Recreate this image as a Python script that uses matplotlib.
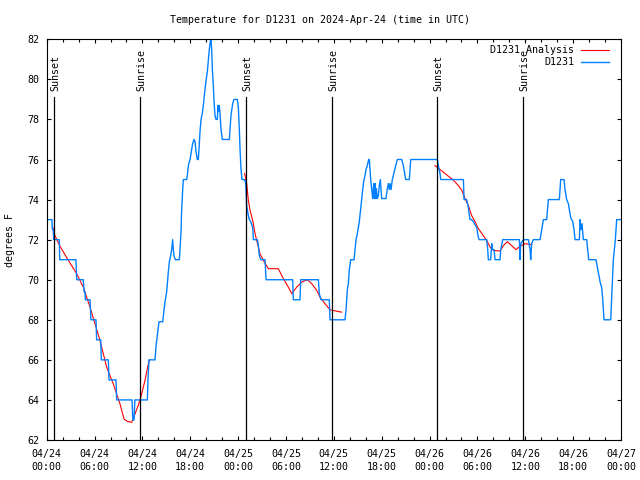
import numpy as np
import matplotlib
matplotlib.use("Agg")
import matplotlib.pyplot as plt
from matplotlib.ticker import MultipleLocator, FixedLocator
import matplotlib.transforms as mtransforms

# ---- data (hours since 2024-04-24 00:00 UTC) ----
obs_hours = [0.0, 0.66, 0.71, 0.83, 0.87, 1.58, 1.63, 3.67, 3.76, 4.59, 4.68, 4.80, 4.84, 5.43, 5.55,
             6.18, 6.26, 6.77, 6.85, 7.73, 7.81, 8.69, 8.77, 10.70, 10.80, 10.95, 11.05, 12.62, 12.70,
             12.82, 13.58, 13.71, 13.87, 14.08, 14.54, 14.71, 14.83, 15.04, 15.25, 15.38, 15.54, 15.67,
             15.79, 15.88, 15.96, 16.13, 16.63, 16.71, 16.84, 16.92, 17.05, 17.13, 17.55, 17.63, 17.76,
             17.97, 18.17, 18.30, 18.47, 18.59, 18.72, 18.89, 19.01, 19.09, 19.22, 19.35, 19.51, 19.64,
             19.76, 19.97, 20.14, 20.27, 20.39, 20.52, 20.60, 20.68, 20.77, 20.89, 20.98, 21.10, 21.23,
             21.39, 21.48, 21.56, 21.64, 21.73, 21.85, 22.02, 22.90, 22.98, 23.10, 23.32, 23.48, 23.90,
             24.03, 24.15, 24.24, 24.36, 24.49, 24.78, 24.91, 24.99, 25.07, 25.28, 25.41, 25.58, 25.83,
             25.91, 26.41, 26.54, 26.66, 26.83, 27.37, 27.50, 30.84, 30.92, 31.76, 31.84, 34.06, 34.18,
             34.39, 35.43, 35.52, 37.40, 37.53, 37.69, 37.82, 37.94, 38.11, 38.53, 38.65, 38.78, 38.95,
             39.07, 39.19, 39.36, 39.49, 39.62, 39.74, 39.91, 40.03, 40.20, 40.37, 40.45, 40.53, 40.62,
             40.75, 40.87, 41.00, 41.08, 41.16, 41.25, 41.33, 41.45, 41.58, 41.70, 41.83, 41.91, 42.00,
             42.54, 42.71, 42.83, 42.96, 43.04, 43.17, 43.33, 43.46, 43.63, 43.76, 43.96, 44.51, 44.71,
             44.88, 45.01, 45.46, 45.55, 45.64, 48.98, 49.10, 49.31, 49.40, 52.24, 52.32, 52.65, 52.86,
             53.07, 53.28, 53.49, 53.91, 54.12, 54.24, 55.16, 55.29, 55.37, 55.66, 55.79, 55.91, 56.08,
             56.21, 56.83, 56.92, 57.17, 59.26, 59.34, 59.43, 59.76, 60.39, 60.60, 60.68, 60.80, 61.01,
             61.85, 62.06, 62.27, 62.68, 62.89, 64.27, 64.36, 64.44, 64.86, 64.98, 65.19, 65.40, 65.53,
             65.69, 65.95, 66.11, 66.24, 66.78, 66.86, 66.99, 67.11, 67.28, 67.70, 67.83, 67.95, 68.87,
             69.04, 69.29, 69.37, 69.58, 69.70, 69.87, 70.71, 70.83, 70.96, 71.04, 71.17, 71.29, 71.46,
             72.0]
obs_temps = [73.0, 73.0, 72.5, 72.5, 72.0, 72.0, 71.0, 71.0, 70.0, 70.0, 69.4, 69.4, 69.0, 69.0, 68.0,
             68.0, 67.0, 67.0, 66.0, 66.0, 65.0, 65.0, 64.0, 64.0, 63.0, 63.0, 64.0, 64.0, 65.0,
             66.0, 66.0, 66.7, 67.2, 67.9, 67.9, 68.5, 68.9, 69.4, 70.4, 70.9, 71.2, 71.5,
             72.0, 71.5, 71.2, 71.0, 71.0, 71.5, 72.4, 73.5, 74.5, 75.0, 75.0, 75.2, 75.7,
             76.0, 76.5, 76.8, 77.0, 76.9, 76.4, 76.0, 76.0, 76.5, 77.4, 78.0, 78.3, 78.7,
             79.2, 79.9, 80.4, 81.0, 81.5, 81.9, 82.0, 81.5, 80.5, 79.7, 78.9, 78.2, 78.0,
             78.0, 78.7, 78.4, 78.7, 78.3, 77.5, 77.0, 77.0, 77.5, 78.2, 78.8, 79.0, 79.0,
             78.6, 77.5, 76.5, 75.5, 75.0, 75.0, 74.9, 74.5, 73.7, 73.2, 73.0, 72.9, 72.6,
             72.0, 72.0, 71.7, 71.2, 71.0, 71.0, 70.0, 70.0, 69.0, 69.0, 70.0, 70.0, 69.3,
             69.0, 69.0, 68.0, 68.0, 68.5, 69.5, 69.8, 70.5, 71.0, 71.0, 71.5, 72.0, 72.3,
             72.6, 72.9, 73.5, 74.0, 74.5, 74.9, 75.2, 75.5, 75.7, 76.0, 76.0, 75.5, 75.0,
             74.5, 74.05, 74.8, 74.05, 74.8, 74.05, 74.55, 74.05, 74.2, 74.7, 75.0, 74.5, 74.05,
             74.05, 74.55, 74.8, 74.5, 74.8, 74.5, 75.0, 75.2, 75.5, 75.7, 76.0, 76.0, 75.7,
             75.3, 75.0, 75.0, 75.5, 76.0, 76.0, 75.7, 75.3, 75.0, 75.0, 74.0, 74.0, 73.6,
             73.0, 73.0, 72.9, 72.6, 72.1, 72.0, 72.0, 71.5, 71.0, 71.0, 71.8, 71.5, 71.5,
             71.0, 71.0, 71.5, 72.0, 72.0, 71.0, 71.8, 72.0, 72.0, 71.5, 71.0, 71.8, 72.0,
             72.0, 72.5, 73.0, 73.0, 74.0, 74.0, 74.5, 75.0, 75.0, 74.5, 74.0, 73.8, 73.5,
             73.1, 72.9, 72.5, 72.0, 72.0, 73.0, 72.5, 72.8, 72.0, 72.0, 71.5, 71.0, 71.0,
             70.6, 70.1, 69.9, 69.6, 69.1, 68.0, 68.0, 69.1, 70.3, 71.0, 71.5, 72.0, 73.0,
             73.0]

ana_hours = [0.75, 1.04, 1.67, 2.71, 3.76, 4.59, 5.43, 6.06, 6.68, 7.52, 8.35, 9.19, 9.69, 10.11,
             10.65, 11.07, 11.69, 12.32, 12.74, 12.9, np.nan,
             24.82, 25.07, 25.28, 25.49, 25.82, 26.12, 26.53, 26.74, 27.16, 27.79, 29.04, 29.67, 30.30,
             30.72, 31.34, 31.97, 32.69, 33.23, 33.85, 34.27, 34.89, 35.52, 36.35, 36.98, np.nan,
             48.68, 49.94, 50.98, 51.61, 52.03, 52.45, 52.86, 53.28, 53.70, 54.12, 54.74, 55.16, 55.58,
             56.00, 56.83, 57.25, 57.75, 58.30, 58.84, 59.34, 59.97, 60.80]
ana_temps = [72.63, 72.2, 71.67, 70.97, 70.3, 69.63, 68.63, 67.8, 66.97, 65.63, 64.8, 63.8, 63.05, 62.93,
             62.88, 63.3, 63.97, 64.97, 65.8, 66.0, np.nan,
             75.3, 74.8, 73.97, 73.47, 72.97, 72.3, 71.63, 71.3, 70.97, 70.55, 70.55, 70.05, 69.63,
             69.3, 69.63, 69.88, 70.0, 69.8, 69.47, 69.13, 68.8, 68.5, 68.43, 68.38, np.nan,
             75.7, 75.3, 74.97, 74.7, 74.47, 74.05, 73.7, 73.2, 72.9, 72.55, 72.2, 71.97, 71.63,
             71.47, 71.43, 71.7, 71.9, 71.7, 71.5, 71.67, 71.8, 71.75]

event_hours = [0.93, 11.73, 24.99, 35.80, 48.97, 59.76]
event_labels = ["Sunset", "Sunrise", "Sunset", "Sunrise", "Sunset", "Sunrise"]

xtick_hours = [0, 6, 12, 18, 24, 30, 36, 42, 48, 54, 60, 66, 72]
xtick_labels = ["04/24\n00:00", "04/24\n06:00", "04/24\n12:00", "04/24\n18:00",
                "04/25\n00:00", "04/25\n06:00", "04/25\n12:00", "04/25\n18:00",
                "04/26\n00:00", "04/26\n06:00", "04/26\n12:00", "04/26\n18:00",
                "04/27\n00:00"]
yticks = [62, 64, 66, 68, 70, 72, 74, 76, 78, 80, 82]

# ---- figure ----
FONT = "DejaVu Sans Mono"
FS = 7.2
plt.rcParams['font.family'] = [FONT]
plt.rcParams['font.size'] = FS

fig = plt.figure(figsize=(6.4, 4.8), dpi=100)
ax = fig.add_axes([46.7 / 640, 40 / 480, (621 - 46.7) / 640, (440 - 39.3) / 480])

ax.plot(ana_hours, ana_temps, color="#ff0000", lw=0.8, label="D1231 Analysis")
ax.plot(obs_hours, obs_temps, color="#0080ff", lw=1.0, label="D1231")

for h, lab in zip(event_hours, event_labels):
    ax.axvline(h, ymin=0, ymax=0.855, color="black", lw=0.9)
    off = mtransforms.offset_copy(ax.get_xaxis_transform(), fig=fig, x=1.2, y=0, units='dots')
    ax.text(h, 0.87, lab, rotation=90, ha="center", va="bottom", transform=off,
            fontsize=FS, family=FONT)

ax.set_xlim(0, 72)
ax.set_ylim(62, 82)
ax.xaxis.set_major_locator(FixedLocator(xtick_hours))
ax.set_xticklabels(xtick_labels, linespacing=1.3)
ax.xaxis.set_minor_locator(MultipleLocator(2))
ax.set_yticks(yticks)
ax.tick_params(which="both", direction="in", top=True, right=True, width=0.8, colors="black")
ax.tick_params(which="major", length=3.2)
ax.tick_params(which="minor", length=1.9)
ax.tick_params(axis="x", which="major", pad=6.6)
ax.tick_params(axis="y", which="major", pad=5.3)
for sp in ax.spines.values():
    sp.set_linewidth(0.8)

fig.text(10 / 640, 0.5, "degrees F", rotation=90, ha="center", va="center", fontsize=FS)
fig.text(320 / 640, 1 - 20 / 480, "Temperature for D1231 on 2024-Apr-24 (time in UTC)",
         ha="center", va="center", fontsize=FS)

leg = ax.legend(loc="upper right", bbox_to_anchor=(0.985, 0.9925), frameon=False,
                markerfirst=False, handlelength=2.8, handletextpad=0.75, labelspacing=0.2,
                borderaxespad=0.0, borderpad=0.3, fontsize=FS)

fig.savefig("out.png", dpi=100)
